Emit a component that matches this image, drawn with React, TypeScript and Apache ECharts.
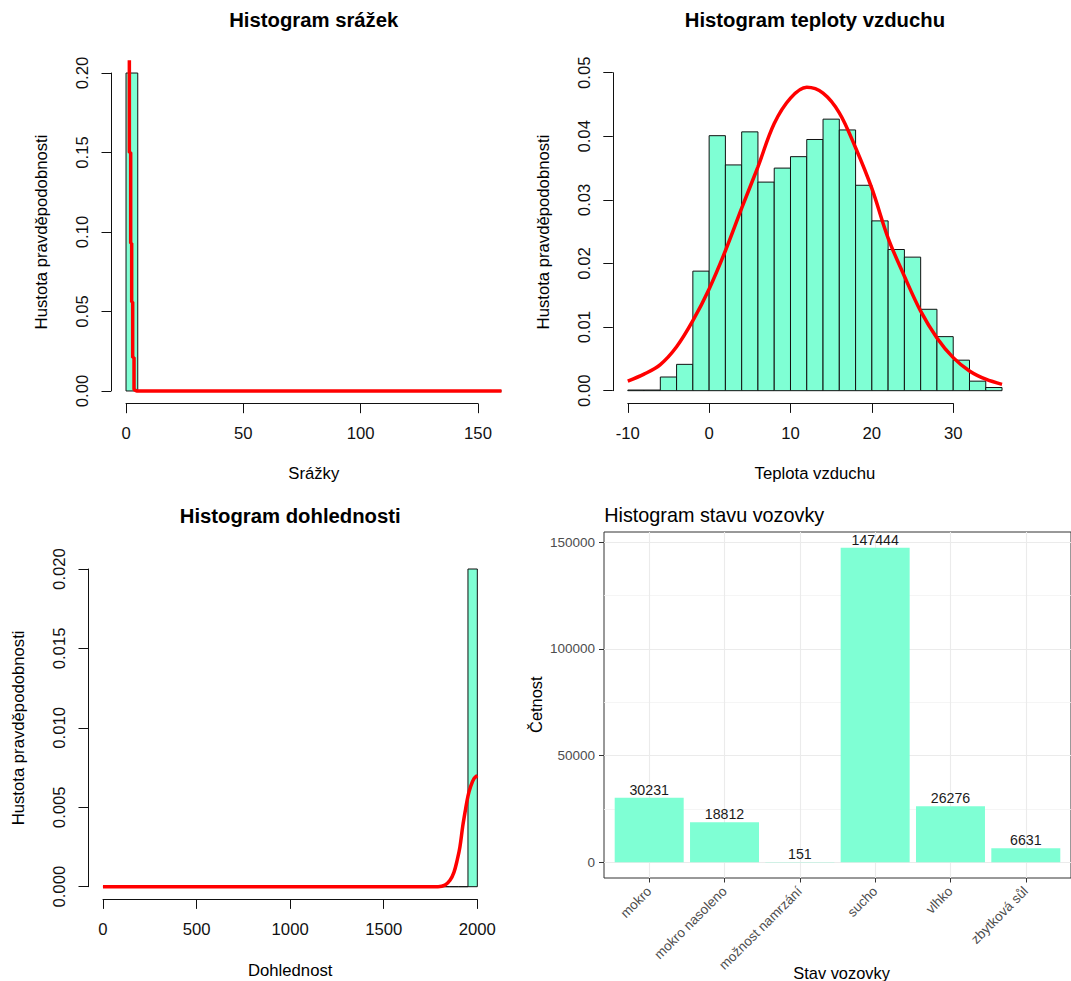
import React, { useEffect, useRef } from 'react';
import * as echarts from 'echarts';

const FONT = '"Liberation Sans", Arial, Helvetica, sans-serif';
const AQUA = '#7FFFD4';

// ---------- Panel 1: Histogram srážek ----------
const rainBreaks = [0, 5, 10, 15, 20, 25, 30, 35, 40, 45, 50, 55, 60, 65, 70, 75, 80, 85, 90, 95, 100, 105, 110, 115, 120, 125, 130, 135, 140, 145, 150, 155, 160];
const rainDensity = [0.2, 0, 0, 0, 0, 0, 0, 0, 0, 0, 0, 0, 0, 0, 0, 0, 0, 0, 0, 0, 0, 0, 0, 0, 0, 0, 0, 0, 0, 0, 0, 0];
const rainCurveX = [1.42, 1.42, 1.99, 1.99, 2.41, 2.41, 2.84, 2.84, 3.41, 3.41, 4.55, 160];
const rainCurveY = [0.208, 0.15, 0.15, 0.093, 0.093, 0.056, 0.056, 0.021, 0.021, 0.001, 0, 0];
const rainXTicks = [0, 50, 100, 150];
const rainYTicks = [0, 0.05, 0.1, 0.15, 0.2];

// ---------- Panel 2: Histogram teploty vzduchu ----------
const tempBreaks = [-10, -8, -6, -4, -2, 0, 2, 4, 6, 8, 10, 12, 14, 16, 18, 20, 22, 24, 26, 28, 30, 32, 34, 36];
const tempDensity = [0.0001, 0.0001, 0.00215, 0.00414, 0.0188, 0.0401, 0.0355, 0.0407, 0.0328, 0.035, 0.0368, 0.0395, 0.0427, 0.041, 0.0323, 0.0267, 0.0222, 0.021, 0.0128, 0.0085, 0.0048, 0.0015, 0.0005];
const tempCurveX = [-10, -8, -6, -4, -2, 0, 2, 4, 6, 8, 10, 12, 14, 16, 18, 20, 22, 24, 26, 28, 30, 32, 34, 36];
const tempCurveY = [0.0015, 0.0026, 0.0041, 0.0069, 0.011, 0.016, 0.022, 0.0287, 0.0352, 0.042, 0.046, 0.0477, 0.0468, 0.0437, 0.0382, 0.0318, 0.024, 0.018, 0.0125, 0.0083, 0.0052, 0.0031, 0.0018, 0.001];
const tempXTicks = [-10, 0, 10, 20, 30];
const tempYTicks = [0, 0.01, 0.02, 0.03, 0.04, 0.05];

// ---------- Panel 3: Histogram dohlednosti ----------
const visBreaks = [0, 50, 100, 150, 200, 250, 300, 350, 400, 450, 500, 550, 600, 650, 700, 750, 800, 850, 900, 950, 1000, 1050, 1100, 1150, 1200, 1250, 1300, 1350, 1400, 1450, 1500, 1550, 1600, 1650, 1700, 1750, 1800, 1850, 1900, 1950, 2000];
const visDensity = [0, 0, 0, 0, 0, 0, 0, 0, 0, 0, 0, 0, 0, 0, 0, 0, 0, 0, 0, 0, 0, 0, 0, 0, 0, 0, 0, 0, 0, 0, 0, 0, 0, 0, 0, 0, 0, 0, 0, 0.02];
const visCurveX = [0, 1790, 1827, 1854, 1875, 1893, 1907, 1922, 1936, 1950, 1964, 1982, 2000];
const visCurveY = [0, 0, 0.0001, 0.0004, 0.0009, 0.0017, 0.0025, 0.0038, 0.0048, 0.0057, 0.0063, 0.0068, 0.007];
const visXTicks = [0, 500, 1000, 1500, 2000];
const visYTicks = [0, 0.005, 0.01, 0.015, 0.02];

// ---------- Panel 4: Histogram stavu vozovky ----------
const roadCategories = ['mokro', 'mokro nasoleno', 'možnost namrzání', 'sucho', 'vlhko', 'zbytková sůl'];
const roadCounts = [30231, 18812, 151, 147444, 26276, 6631];
const roadYTicks = [0, 50000, 100000, 150000];
const roadYMinor = [25000, 75000, 125000];

// R-style extended range (4%)
const rRange = (lo: number, hi: number) => [lo - 0.04 * (hi - lo), hi + 0.04 * (hi - lo)];

const histRows = (breaks: number[], dens: number[]) => dens.map((d, i) => [breaks[i], breaks[i + 1], d]);
const zip = (xs: number[], ys: number[]) => xs.map((x, i) => [x, ys[i]]);

const histRender = (params: any, api: any) => {
  const p0 = api.coord([api.value(0), 0]);
  const p1 = api.coord([api.value(1), api.value(2)]);
  return {
    type: 'rect',
    shape: { x: p0[0], y: p1[1], width: p1[0] - p0[0], height: p0[1] - p1[1] },
    style: { fill: AQUA, stroke: '#111', lineWidth: 1 },
  };
};

function rX(gridIndex: number, ext: number[], ticks: number[], fmt: (v: number) => string) {
  return {
    type: 'value', gridIndex, min: ext[0], max: ext[1],
    axisLine: { show: false, onZero: false },
    axisTick: { show: true, customValues: ticks, length: 9.5, lineStyle: { color: '#111', width: 1 } },
    axisLabel: { customValues: ticks, formatter: fmt, fontFamily: FONT, fontSize: 16.7, color: '#111', margin: 21.5 },
    splitLine: { show: false },
  };
}
function rY(gridIndex: number, ext: number[], ticks: number[], fmt: (v: number) => string) {
  return {
    type: 'value', gridIndex, min: ext[0], max: ext[1],
    axisLine: { show: false, onZero: false },
    axisTick: { show: true, customValues: ticks, length: 9.5, lineStyle: { color: '#111', width: 1 } },
    axisLabel: { customValues: ticks, formatter: fmt, rotate: 90, fontFamily: FONT, fontSize: 16.7, color: '#111', margin: 20 },
    splitLine: { show: false },
  };
}

function rPanelSeries(idx: number, hist: number[][], curve: number[][], smooth: boolean) {
  return [
    {
      type: 'custom', xAxisIndex: idx, yAxisIndex: idx,
      renderItem: histRender, data: hist, encode: { x: [0, 1], y: 2 }, z: 2, silent: true,
    },
    {
      type: 'line', xAxisIndex: idx, yAxisIndex: idx, data: curve, showSymbol: false, symbol: 'none',
      smooth: smooth ? 0.35 : false, clip: false, z: 3, silent: true,
      lineStyle: { color: '#ff0000', width: 3.5 },
    },
  ];
}

function txt(x: number, y: number, text: string, size: number, opts: any = {}) {
  return {
    type: 'text', x, y, rotation: opts.rot || 0, silent: true,
    style: {
      text, fontFamily: FONT, fontSize: size, fontWeight: opts.bold ? 'bold' : 'normal',
      fill: opts.color || '#000',
      textAlign: opts.align || 'center', textVerticalAlign: 'middle',
      align: opts.align || 'center', verticalAlign: 'middle',
    },
  };
}

const GRIDS = [
  { left: 111, top: 60.3, width: 405.5, height: 343.4 },
  { left: 612.8, top: 60, width: 404.2, height: 343.4 },
  { left: 88, top: 556.3, width: 404.3, height: 343.1 },
];

export default function App() {
  const ref = useRef<HTMLDivElement>(null);
  useEffect(() => {
    document.body.style.margin = '0';
    if (!ref.current) return;
    const chart = echarts.init(ref.current, undefined, { renderer: 'svg' });

    const rainX = rRange(rainBreaks[0], rainBreaks[rainBreaks.length - 1]);
    const rainY = rRange(0, rainYTicks[rainYTicks.length - 1]);
    const tempX = rRange(tempBreaks[0], tempBreaks[tempBreaks.length - 1]);
    const tempY = rRange(0, tempYTicks[tempYTicks.length - 1]);
    const visX = rRange(visBreaks[0], visBreaks[visBreaks.length - 1]);
    const visY = rRange(0, visYTicks[visYTicks.length - 1]);
    const roadMax = Math.max(...roadCounts);
    const roadY = [-0.05 * roadMax, roadMax * 1.05];
    const roadX = [1 - 0.6, roadCategories.length + 0.6];
    const roadUnit = 76.65;

    // R draws its axis lines only from the first to the last tick: give each such line
    // its own small grid whose native ECharts axis line spans exactly that tick range.
    const panels = [
      { idx: 0, xTicks: rainXTicks, yTicks: rainYTicks, xExt: rainX, yExt: rainY },
      { idx: 1, xTicks: tempXTicks, yTicks: tempYTicks, xExt: tempX, yExt: tempY },
      { idx: 2, xTicks: visXTicks, yTicks: visYTicks, xExt: visX, yExt: visY },
    ];
    const lineGrids: any[] = [];
    const lineXAxes: any[] = [];
    const lineYAxes: any[] = [];
    const axisLineStyle = { show: true, onZero: false, lineStyle: { color: '#111', width: 1 } };
    const hiddenAxis = (gridIndex: number) => ({ type: 'value', gridIndex, show: false, min: 0, max: 1, axisLine: { onZero: false } });
    panels.forEach((p) => {
      const g = GRIDS[p.idx];
      const px = (v: number) => g.left + ((v - p.xExt[0]) / (p.xExt[1] - p.xExt[0])) * g.width;
      const py = (v: number) => g.top + g.height - ((v - p.yExt[0]) / (p.yExt[1] - p.yExt[0])) * g.height;
      const x0 = p.xTicks[0];
      const x1 = p.xTicks[p.xTicks.length - 1];
      const y0 = p.yTicks[0];
      const y1 = p.yTicks[p.yTicks.length - 1];
      // bottom axis line
      const hIndex = 4 + lineGrids.length;
      lineGrids.push({ left: px(x0), top: g.top, width: px(x1) - px(x0), height: g.height });
      lineXAxes.push({
        type: 'value', gridIndex: hIndex, min: x0, max: x1, position: 'bottom',
        axisLine: axisLineStyle, axisTick: { show: false }, axisLabel: { show: false }, splitLine: { show: false },
      });
      lineYAxes.push(hiddenAxis(hIndex));
      // left axis line
      const vIndex = 4 + lineGrids.length;
      lineGrids.push({ left: g.left, top: py(y1), width: g.width, height: py(y0) - py(y1) });
      lineXAxes.push(hiddenAxis(vIndex));
      lineYAxes.push({
        type: 'value', gridIndex: vIndex, min: y0, max: y1, position: 'left',
        axisLine: axisLineStyle, axisTick: { show: false }, axisLabel: { show: false }, splitLine: { show: false },
      });
    });

    const option: any = {
      animation: false,
      backgroundColor: '#fff',
      textStyle: { fontFamily: FONT },
      grid: [
        ...GRIDS,
        { left: 604, top: 532, width: roadUnit * (roadX[1] - roadX[0]), height: 346, show: true, borderColor: '#333', borderWidth: 1, backgroundColor: '#fff' },
        ...lineGrids,
      ],
      xAxis: [
        rX(0, rainX, rainXTicks, (v) => String(v)),
        rX(1, tempX, tempXTicks, (v) => String(v)),
        rX(2, visX, visXTicks, (v) => String(v)),
        {
          type: 'value', gridIndex: 3, min: roadX[0], max: roadX[1],
          axisLine: { show: false, onZero: false },
          axisTick: { show: true, customValues: roadCategories.map((_, i) => i + 1), length: 4.5, lineStyle: { color: '#333' } },
          axisLabel: {
            customValues: roadCategories.map((_, i) => i + 1),
            formatter: (v: number) => roadCategories[Math.round(v) - 1] || '',
            rotate: 45, fontFamily: FONT, fontSize: 13.5, color: '#4d4d4d', margin: 11,
          },
          splitLine: { show: true, lineStyle: { color: '#ebebeb', width: 1.1 } },
        },
        ...lineXAxes,
      ],
      yAxis: [
        rY(0, rainY, rainYTicks, (v) => v.toFixed(2)),
        rY(1, tempY, tempYTicks, (v) => v.toFixed(2)),
        rY(2, visY, visYTicks, (v) => v.toFixed(3)),
        {
          type: 'value', gridIndex: 3, min: roadY[0], max: roadY[1],
          axisLine: { show: false, onZero: false },
          axisTick: { show: true, customValues: roadYTicks, length: 5, lineStyle: { color: '#333' } },
          axisLabel: { customValues: roadYTicks, formatter: (v: number) => String(v), fontFamily: FONT, fontSize: 13.5, color: '#4d4d4d', margin: 9 },
          splitLine: { show: true, lineStyle: { color: '#ebebeb', width: 1.1 } },
        },
        {
          type: 'value', gridIndex: 3, min: roadY[0], max: roadY[1],
          axisLine: { show: false, onZero: false },
          axisTick: { show: false, customValues: roadYMinor },
          axisLabel: { show: false, customValues: roadYMinor },
          splitLine: { show: true, lineStyle: { color: '#f2f2f2', width: 0.8 } },
        },
        ...lineYAxes,
      ],
      series: [
        ...rPanelSeries(0, histRows(rainBreaks, rainDensity), zip(rainCurveX, rainCurveY), false),
        ...rPanelSeries(1, histRows(tempBreaks, tempDensity), zip(tempCurveX, tempCurveY), true),
        ...rPanelSeries(2, histRows(visBreaks, visDensity), zip(visCurveX, visCurveY), true),
        {
          type: 'bar', xAxisIndex: 3, yAxisIndex: 3,
          data: roadCounts.map((c, i) => [i + 1, c]),
          barWidth: roadUnit * 0.9,
          itemStyle: { color: AQUA },
          label: { show: true, position: 'top', distance: 1, fontFamily: FONT, fontSize: 14.2, color: '#1a1a1a', formatter: (p: any) => String(p.value[1]) },
          z: 3, silent: true,
        },
      ],
      graphic: [
        txt(313.75, 20, 'Histogram srážek', 20.3, { bold: true }),
        txt(814.9, 20, 'Histogram teploty vzduchu', 20.3, { bold: true }),
        txt(290.2, 516, 'Histogram dohlednosti', 20.3, { bold: true }),
        txt(604.3, 515, 'Histogram stavu vozovky', 19.8, { align: 'left' }),
        txt(313.75, 473.5, 'Srážky', 16.7),
        txt(814.9, 473.5, 'Teplota vzduchu', 16.7),
        txt(290.2, 970, 'Dohlednost', 16.7),
        txt(841.6, 973, 'Stav vozovky', 16.4),
        txt(41.7, 232, 'Hustota pravděpodobnosti', 16.7, { rot: Math.PI / 2 }),
        txt(543.8, 232, 'Hustota pravděpodobnosti', 16.7, { rot: Math.PI / 2 }),
        txt(18.3, 727.9, 'Hustota pravděpodobnosti', 16.7, { rot: Math.PI / 2 }),
        txt(535.8, 704.7, 'Četnost', 16.4, { rot: Math.PI / 2 }),
      ],
    };
    chart.setOption(option);
    return () => chart.dispose();
  }, []);
  return <div ref={ref} style={{ width: 1071, height: 981 }} />;
}
